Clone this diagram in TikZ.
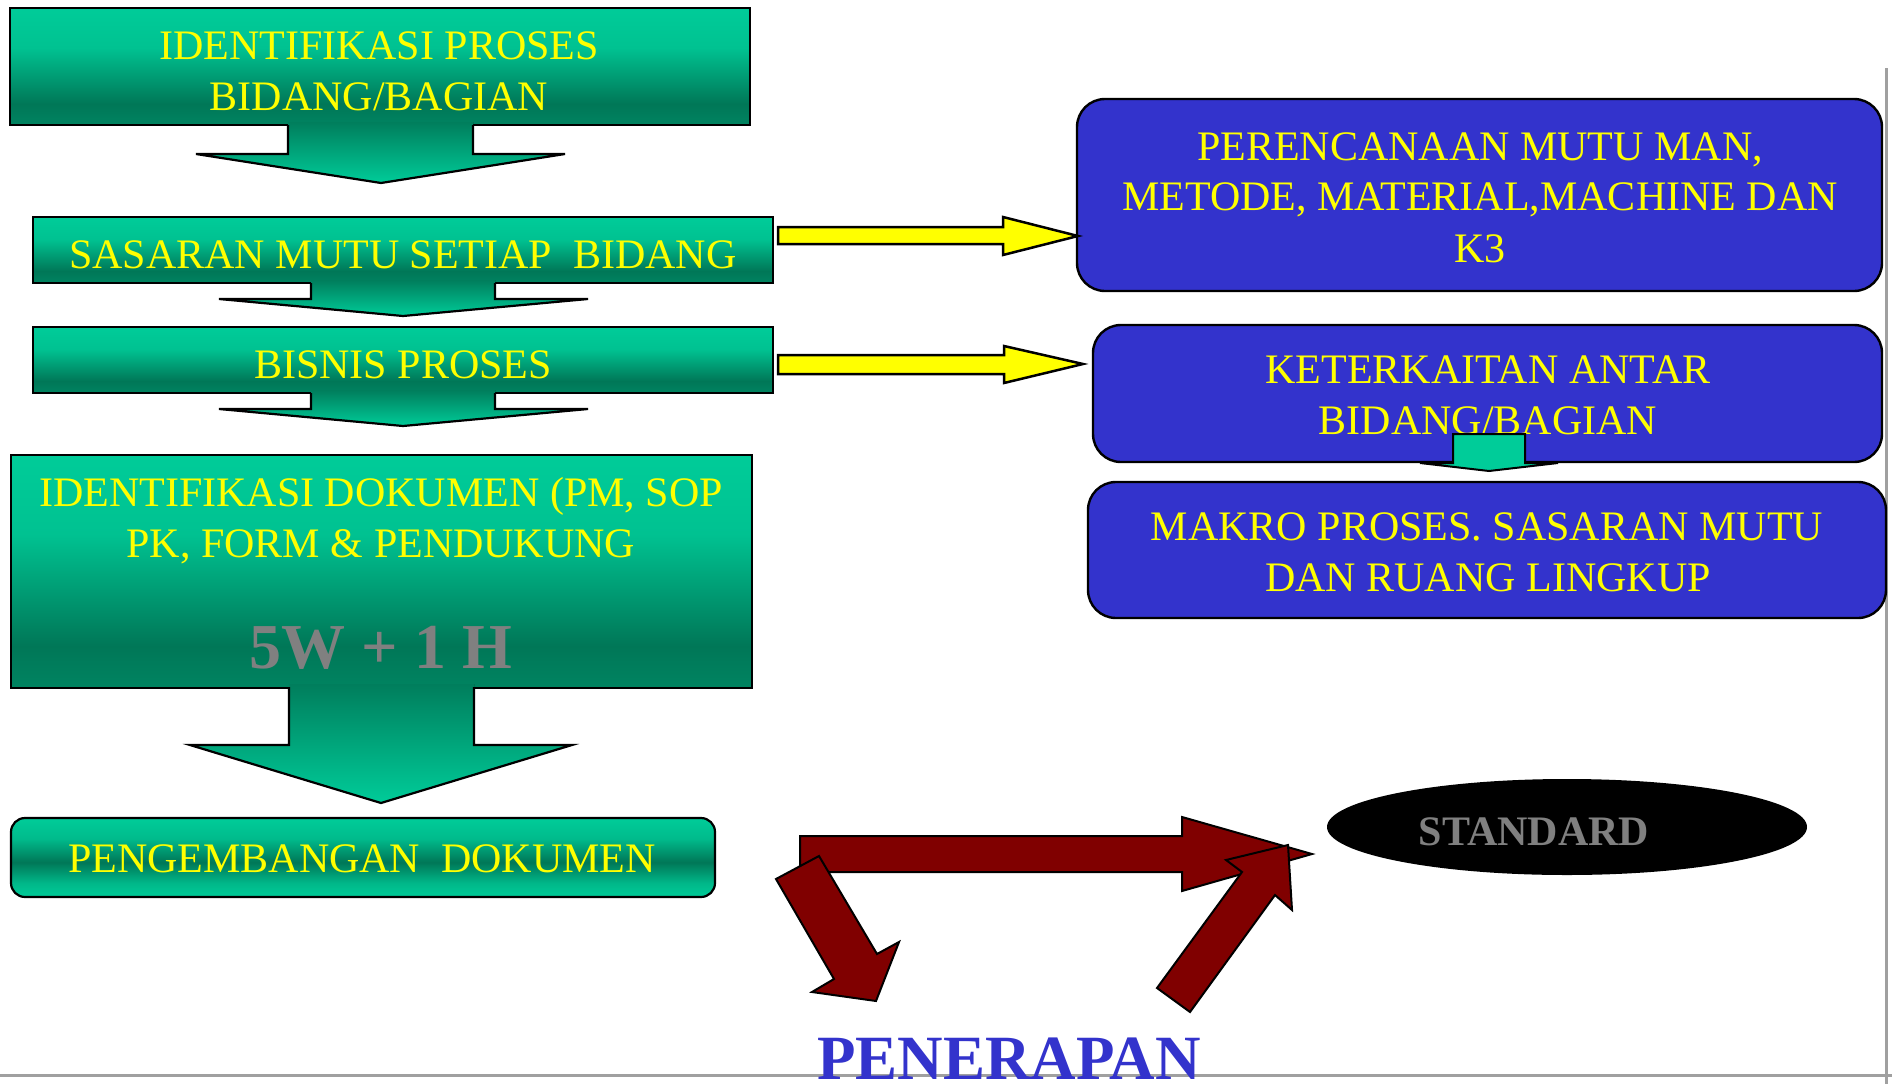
\documentclass[tikz,border=0pt]{standalone}
\usepackage{fontspec}
\setmainfont{Liberation Serif}
\usetikzlibrary{shapes.geometric}

\definecolor{glight}{RGB}{0,204,153}
\definecolor{gdark}{RGB}{0,119,87}
\definecolor{boxblue}{RGB}{51,51,204}
\definecolor{ayellow}{RGB}{255,255,0}
\definecolor{amaroon}{RGB}{128,0,0}
\definecolor{txtgray}{RGB}{128,128,128}
\definecolor{rulegray}{RGB}{160,160,160}

% light at the top, darkest near the bottom edge
\pgfdeclareverticalshading{greenbox}{100bp}{%
  color(0bp)=(gdark!85!glight); color(25bp)=(gdark!85!glight);
  color(34bp)=(gdark); color(58bp)=(glight!88!gdark);
  color(75bp)=(glight); color(100bp)=(glight)}

% light at both edges, dark band across the middle
\pgfdeclareverticalshading{greenpill}{100bp}{%
  color(0bp)=(glight); color(25bp)=(glight);
  color(34bp)=(glight!75!gdark); color(47bp)=(gdark);
  color(62bp)=(glight!80!gdark); color(75bp)=(glight); color(100bp)=(glight)}

\newcommand{\lblfont}{\fontsize{42}{50}\selectfont}

\tikzset{
  greenbox/.style={draw=black, line width=2.2pt, shading=greenbox, inner sep=0pt},
  pillbox/.style={draw=black, line width=2.2pt, rounded corners=14pt,
    shading=greenpill, inner sep=0pt},
  bluebox/.style={draw=black, line width=2.4pt, fill=boxblue, rounded corners=28pt, inner sep=0pt},
  arrowfill/.style={top color=gdark!92!glight, bottom color=glight},
  arrowline/.style={draw=black, line width=2.2pt, line join=miter},
  yelarrow/.style={fill=ayellow, draw=black, line width=2.5pt},
  redarrow/.style={fill=amaroon, draw=black, line width=2pt, line join=miter},
  ytext/.style={text=ayellow, font=\lblfont, anchor=base, inner sep=0pt},
  gtext/.style={text=txtgray, font=\bfseries\lblfont, anchor=base, inner sep=0pt},
}

\begin{document}
\begin{tikzpicture}[x=1pt, y=-1pt]
\useasboundingbox (0,0) rectangle (1892,1084);
\clip (0,0) rectangle (1892,1084);
\fill[white] (0,0) rectangle (1892,1084);

% page rules
\draw[rulegray, line width=3pt] (1886,68) -- (1886,1084);
\draw[rulegray, line width=3pt] (0,1075) -- (1892,1075);

% ---------------- left column ----------------
\node[greenbox, minimum width=740pt, minimum height=117pt] (b1) at (380,66.5) {};
\node[ytext] (b1a) at (379,59) {IDENTIFIKASI PROSES};
\node[ytext] (b1b) at (379,110) {BIDANG/BAGIAN};

\fill[arrowfill] (288,122) -- (288,154) -- (196,154) -- (381,183) -- (565,154) -- (473,154) -- (473,122) -- cycle;
\draw[arrowline] (288,125) -- (288,154) -- (196,154) -- (381,183) -- (565,154) -- (473,154) -- (473,125);

\node[greenbox, minimum width=740pt, minimum height=66pt] (b2) at (403,250) {};
\node[ytext] (b2a) at (403,268) {SASARAN MUTU SETIAP\ \ BIDANG};

\fill[arrowfill] (311,280) -- (311,299) -- (219,299) -- (403,316) -- (588,299) -- (495,299) -- (495,280) -- cycle;
\draw[arrowline] (311,283) -- (311,299) -- (219,299) -- (403,316) -- (588,299) -- (495,299) -- (495,283);

\node[greenbox, minimum width=740pt, minimum height=66pt] (b3) at (403,360) {};
\node[ytext] (b3a) at (403,378) {BISNIS PROSES};

\fill[arrowfill] (311,390) -- (311,409) -- (219,409) -- (403,426) -- (588,409) -- (495,409) -- (495,390) -- cycle;
\draw[arrowline] (311,393) -- (311,409) -- (219,409) -- (403,426) -- (588,409) -- (495,409) -- (495,393);

\node[greenbox, minimum width=741pt, minimum height=233pt] (b4) at (381.5,571.5) {};
\node[ytext] (b4a) at (381,506) {IDENTIFIKASI DOKUMEN (PM, SOP};
\node[ytext] (b4b) at (381,557) {PK, FORM \& PENDUKUNG};
\node[gtext, font=\bfseries\fontsize{64}{70}\selectfont] (b4c) at (381,668) {5W + 1 H};

\fill[arrowfill] (289,684) -- (289,745) -- (190,745) -- (381,803) -- (572,745) -- (474,745) -- (474,684) -- cycle;
\draw[arrowline] (289,687) -- (289,745) -- (190,745) -- (381,803) -- (572,745) -- (474,745) -- (474,687);

\node[pillbox, minimum width=704pt, minimum height=79pt] (b5) at (363,857.5) {};
\node[ytext] (b5a) at (362,872) {PENGEMBANGAN\ \ DOKUMEN};

% ---------------- right column ----------------
\node[bluebox, minimum width=805pt, minimum height=192pt] (r1) at (1479.5,195) {};
\node[ytext] (r1a) at (1480,160) {PERENCANAAN MUTU MAN,};
\node[ytext] (r1b) at (1480,210) {METODE, MATERIAL,MACHINE DAN};
\node[ytext] (r1c) at (1480,262) {K3};

\node[bluebox, minimum width=789pt, minimum height=137pt] (r2) at (1487.5,393.5) {};
\node[ytext] (r2a) at (1488,383) {KETERKAITAN ANTAR};
\node[ytext] (r2b) at (1488,434) {BIDANG/BAGIAN};

% short link arrow between the two lower boxes
\draw[fill=glight, draw=black, line width=2pt, line join=miter]
  (1453,434) -- (1525,434) -- (1525,463) -- (1558,463) -- (1489,471) -- (1420,463) -- (1453,463) -- cycle;

\node[bluebox, minimum width=798pt, minimum height=136pt] (r3) at (1487,550) {};
\node[ytext] (r3a) at (1487,540) {MAKRO PROSES. SASARAN MUTU};
\node[ytext] (r3b) at (1488,591) {DAN RUANG LINGKUP};

% yellow links to the right column
\draw[yelarrow] (778,227) -- (1003,227) -- (1003,217) -- (1078,236) -- (1003,255) -- (1003,244) -- (778,244) -- cycle;
\draw[yelarrow] (778,355) -- (1004,355) -- (1004,346) -- (1083,364) -- (1004,383) -- (1004,374) -- (778,374) -- cycle;

% ---------------- standard / penerapan cycle ----------------
\node[ellipse, fill=black, minimum width=480pt, minimum height=96pt, inner sep=0pt] (std) at (1567,827) {};
\node[gtext] (stdt) at (1534,845) {STANDARD};

\draw[redarrow] (800,836) -- (1182,836) -- (1182,817) -- (1312,854) -- (1182,891) -- (1182,872) -- (800,872) -- cycle;
\draw[redarrow] (819,856) -- (877,954) -- (899,942) -- (876,1001) -- (812,992) -- (834,979) -- (776,879) -- cycle;
\draw[redarrow] (1157,988) -- (1190,1012) -- (1275,895) -- (1292,910) -- (1288,845) -- (1226,860) -- (1242,872) -- cycle;

\node[text=boxblue, font=\bfseries\fontsize{63}{70}\selectfont, anchor=base, inner sep=0pt] (pen) at (1009,1079) {PENERAPAN};
\end{tikzpicture}
\end{document}
